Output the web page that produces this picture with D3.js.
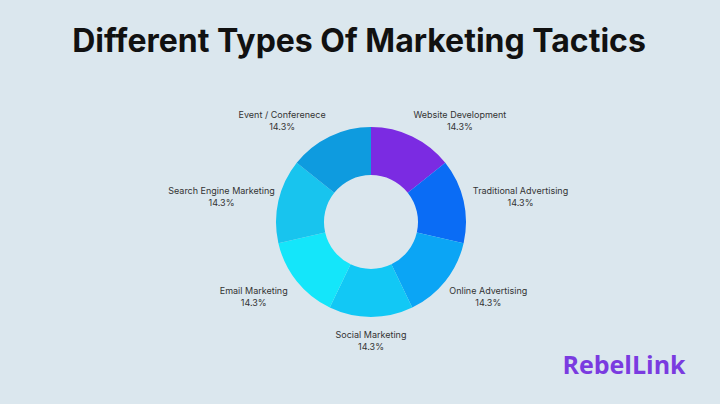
<!DOCTYPE html><html><head><meta charset="utf-8"><script src="https://cdn.jsdelivr.net/npm/d3@7"></script>
<style>body{margin:0;background:#dbe7ee}</style></head><body><svg id="c" width="720" height="404"></svg>
<script>
const categories=["Website Development","Traditional Advertising","Online Advertising","Social Marketing","Email Marketing","Search Engine Marketing","Event / Conferenece"];
const values=[14.3,14.3,14.3,14.3,14.3,14.3,14.3];
const colors=["#7b2be2","#0a6cf5","#0ba5f5","#12c8f5","#14e6fa","#18c4ee","#0e9bdf"];
const svg=d3.select("#c");
svg.append("rect").attr("width",720).attr("height",404).attr("fill","#dbe7ee");
svg.append("text").attr("x",359).attr("y",52).attr("text-anchor","middle").attr("font-family","Inter,Roboto,sans-serif").attr("font-weight",700).attr("font-size",32).attr("fill","#111").text("Different Types Of Marketing Tactics");
const cx=371,cy=222;
const pie=d3.pie().sort(null).value(d=>d)(values);
const arc=d3.arc().innerRadius(47).outerRadius(95);
const g=svg.append("g").attr("transform",`translate(${cx},${cy})`);
g.selectAll("path").data(pie).join("path").attr("d",arc).attr("fill",(d,i)=>colors[i]);
pie.forEach((d,i)=>{const a=(d.startAngle+d.endAngle)/2;const c=Math.max(0,Math.cos(a));
 const x=Math.sin(a)*150*(1+0.45*c*c),y=-Math.cos(a)*118+(c>0.5?4:0);
 const t=g.append("text").attr("text-anchor","middle").attr("font-family","Inter,Roboto,sans-serif").attr("font-size",9).attr("fill","#333").attr("transform",`translate(${x},${y})`);
 t.append("tspan").attr("x",0).attr("dy",-2).text(categories[i]);
 t.append("tspan").attr("x",0).attr("dy",12).text(values[i].toFixed(1)+"%");});
svg.append("text").attr("x",624).attr("y",374).attr("text-anchor","middle").attr("font-family","'Open Sans',sans-serif").attr("font-weight",700).attr("font-size",25).attr("fill","#7a3be0").text("RebelLink");
</script></body></html>
